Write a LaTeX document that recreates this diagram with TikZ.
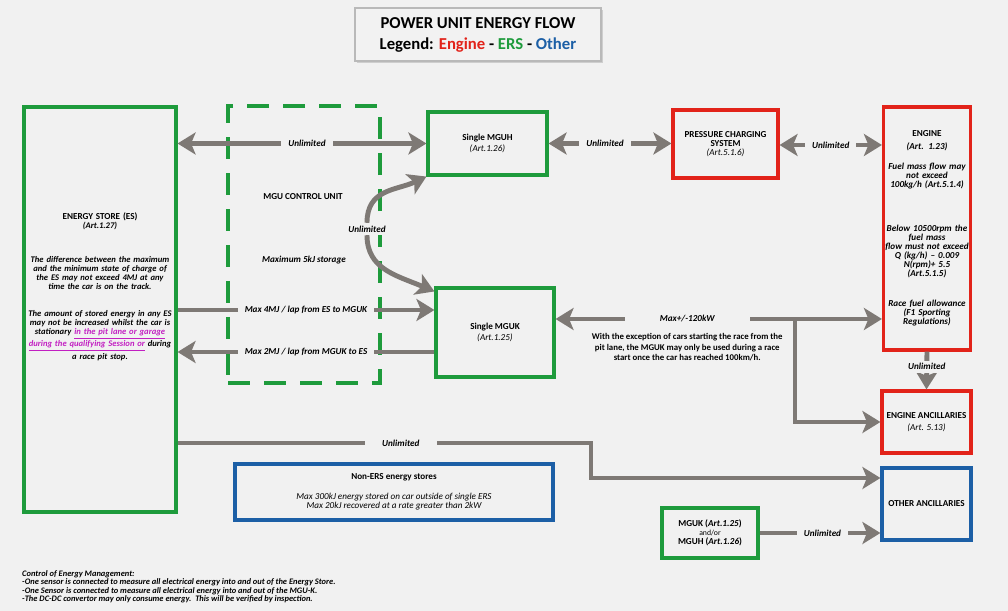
\documentclass[tikz,border=0pt]{standalone}
\usepackage{fontspec}
\setmainfont{Carlito}
\usepackage{xcolor}
\usetikzlibrary{arrows.meta,positioning,calc,shadows}
\definecolor{ers}{HTML}{1E9B3C}
\definecolor{eng}{HTML}{E2231A}
\definecolor{oth}{HTML}{1C5FA6}
\definecolor{flow}{HTML}{7E7975}
\definecolor{paper}{HTML}{F1F1F1}
\definecolor{lnk}{HTML}{C21FC2}

\begin{document}
\begin{tikzpicture}[
  x=0.02cm, y=-0.02cm,
  font=\fontsize{5.2}{5.12}\selectfont\bfseries,
  bx/.style  ={line width=1.8pt, inner sep=2pt, align=center},
  ersb/.style={bx, draw=ers},
  engb/.style={bx, draw=eng},
  othb/.style={bx, draw=oth},
  itx/.style ={font=\fontsize{5.2}{5.12}\selectfont\bfseries\itshape},
  lbl/.style ={itx, fill=paper, inner ysep=1.5pt, inner xsep=4pt},
  ar/.style  ={draw=flow, line width=2.8pt, line join=miter,
               -{Stealth[length=3.6mm,width=4.4mm,inset=0.9mm]}},
  biar/.style={ar, {Stealth[length=3.6mm,width=4.4mm,inset=0.9mm]}-{Stealth[length=3.6mm,width=4.4mm,inset=0.9mm]}}
]
\fill[paper] (0,0) rectangle (1008,611);
\useasboundingbox (0,0) rectangle (1008,611);

% ---------- title ----------
\node[draw=gray!55, fill=gray!10, line width=0.8pt,
      drop shadow={opacity=0.3, shadow xshift=1.2pt, shadow yshift=-1.2pt},
      minimum width=4.92cm, minimum height=1.06cm, align=center,
      font=\fontsize{9.5}{12}\selectfont\bfseries] (ttl) at (478,34.5)
  {POWER UNIT ENERGY FLOW\\
   Legend: \textcolor{eng}{Engine} - \textcolor{ers}{ERS} - \textcolor{oth}{Other}};

% ---------- ERS side ----------
\node[ersb, minimum width=3.04cm, minimum height=8.1cm] (es) at (100,309.5) {};
\node[text width=3.4cm, align=center, inner sep=0pt,
      font=\fontsize{4.9}{5.12}\selectfont\bfseries\itshape] (estxt) at (100,287)
  {{\upshape\fontsize{5.2}{5.12}\selectfont ENERGY STORE (ES)}\\ (Art.1.27)\\[14pt]
   The difference between the maximum\\ and the minimum state of charge of\\
   the ES may not exceed 4MJ at any\\ time the car is on the track.\\[10pt]
   The amount of stored energy in any ES\\ may not be increased whilst the car is\\
   stationary \textcolor{lnk}{\underline{in the pit lane or garage}}\\
   \textcolor{lnk}{\underline{during the qualifying Session or}} during\\ a race pit stop.};

\node[draw=ers, line width=1.8pt, dash pattern=on 0.44cm off 0.28cm,
      minimum width=3.04cm, minimum height=5.54cm] (mcu) at (304,244.5) {};
\node (mcutxt) at (303,197) {MGU CONTROL UNIT};
\node[itx] (mcusto) at (304,260) {Maximum 5kJ storage};

\node[ersb, minimum width=2.38cm, minimum height=1.26cm] (mguh) at (487.5,143.5)
  {Single MGUH\\[1pt] {\mdseries\itshape (Art.1.26)}};
\node[ersb, minimum width=2.36cm, minimum height=1.78cm] (mguk) at (495,332.5)
  {Single MGUK\\[1pt] {\mdseries\itshape (Art.1.25)}};
\node[ersb, minimum width=1.92cm, minimum height=1.0cm] (mgx) at (710,533)
  {MGUK (\textit{Art.1.25})\\ {\mdseries\fontsize{4.4}{4.4}\selectfont and/or}\\ MGUH (\textit{Art.1.26})};

% ---------- engine side ----------
\node[engb, minimum width=2.1cm, minimum height=1.36cm] (pcs) at (725.5,144)
  {PRESSURE CHARGING\\ SYSTEM\\ {\mdseries\itshape (Art.5.1.6)}};
\node[engb, itx, text width=1.74cm, inner xsep=0pt, minimum height=4.86cm] (eng) at (927,228.5)
  {{\upshape ENGINE}\\[2.3pt] (Art. 1.23)\\[6.3pt]
   Fuel mass flow may\\ not exceed\\ 100kg/h (Art.5.1.4)\\[20pt]
   Below 10500rpm the\\ fuel mass\\ flow must not exceed\\ Q (kg/h) -- 0.009\\
   N(rpm)+ 5.5\\ (Art.5.1.5)\\[12pt]
   Race fuel allowance\\ (F1 Sporting\\ Regulations)};
\node[engb, minimum width=1.78cm, minimum height=1.24cm] (anc) at (926.5,422)
  {ENGINE ANCILLARIES\\[2pt] {\mdseries\itshape (Art. 5.13)}};

% ---------- other ----------
\node[othb, minimum width=1.78cm, minimum height=1.44cm] (oth) at (926.5,504) {OTHER ANCILLARIES};
\node[othb, minimum width=6.36cm, minimum height=1.12cm] (nes) at (394,492)
  {Non-ERS energy stores\\[6.3pt]
   {\mdseries\itshape Max 300kJ energy stored on car outside of single ERS}\\
   {\mdseries\itshape Max 20kJ recovered at a rate greater than 2kW}};

% ---------- flows ----------
\draw[biar] (mguh.west -| es.east) -- node[lbl, pos=0.52] {Unlimited} (mguh.west);
\draw[biar] (mguh.east) -- node[lbl, pos=0.46] {Unlimited} (mguh.east -| pcs.west);
\draw[biar] ($(pcs.east)+(0,1)$) -- node[lbl] {Unlimited} ($(pcs.east -| eng.west)+(0,1)$);

\node[lbl] (cu) at (367,229) {Unlimited};
\draw[ar] (cu.north) .. controls +(0,-34) and +(-30,14) .. (mguh.south west);
\draw[ar] (cu.south) .. controls +(0,34) and +(-38,-16) .. ($(mguk.north west)+(0,5)$);

\coordinate (k4) at ($(mguk.west)+(0,-22.5)$);
\coordinate (k2) at ($(mguk.west)+(0,19.5)$);
\draw[ar] (k4 -| es.east) -- node[lbl] {Max 4MJ / lap from ES to MGUK} (k4);
\draw[ar] (k2) -- node[lbl] {Max 2MJ / lap from MGUK to ES} (k2 -| es.east);

\coordinate (j) at (795,319);
\draw[ar] (j) -- node[lbl, pos=0.45, inner xsep=20pt] (kw) {Max+/-120kW} (j -| mguk.east);
\draw[ar] (j) -- (j -| eng.west);
\draw[ar] (j) |- (anc.west);
\node[below=0pt of kw, align=center, font=\fontsize{5}{6}\selectfont\bfseries] (kwnote)
  {With the exception of cars starting the race from the\\
   pit lane, the MGUK may only be used during a race\\
   start once the car has reached 100km/h.};

\draw[ar] (eng.south) -- node[lbl, pos=0.4] {Unlimited} (anc.north);

\coordinate (u6) at (591,443);
\draw[ar] (u6 -| es.east) -- node[lbl, pos=0.54, inner xsep=10pt] {Unlimited} (u6)
  |- ($(oth.west)+(0,-26)$);

\draw[ar] (mgx.east) -- node[lbl, pos=0.52] {Unlimited} (mgx.east -| oth.west);

% ---------- notes ----------
\node[anchor=north west, align=left, font=\fontsize{4.8}{4.9}\selectfont\bfseries\itshape] (note) at (16,564)
  {Control of Energy Management:\\
   -One sensor is connected to measure all electrical energy into and out of the Energy Store.\\
   -One Sensor is connected to measure all electrical energy into and out of the MGU-K.\\
   -The DC-DC convertor may only consume energy.\ \ This will be verified by inspection.};
\end{tikzpicture}
\end{document}
